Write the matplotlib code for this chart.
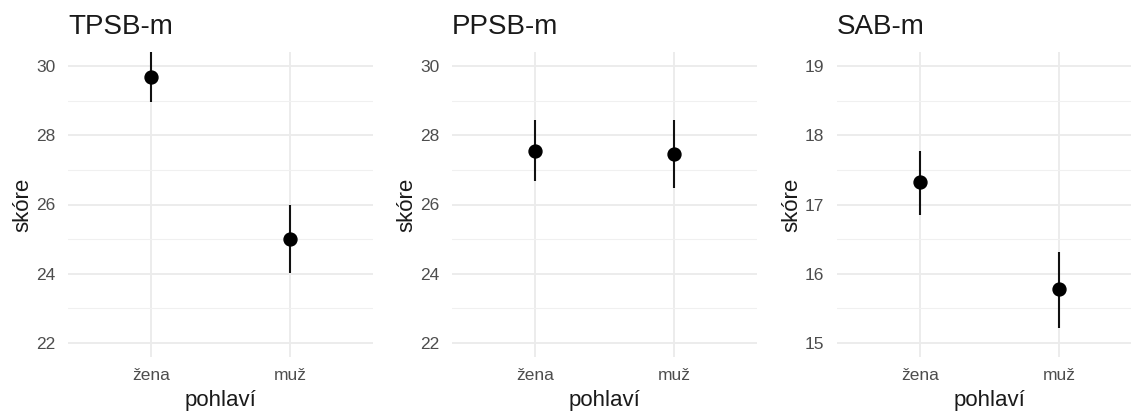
import numpy as np
import matplotlib
matplotlib.use("Agg")
import matplotlib.pyplot as plt

plt.rcParams['font.family'] = ['Liberation Sans', 'DejaVu Sans']

# data
skupiny = ["žena", "muž"]
nazvy = ["TPSB-m", "PPSB-m", "SAB-m"]
prumery = [[29.68, 25.0], [27.55, 27.45], [17.32, 15.78]]
dolni = [[28.97, 24.02], [26.68, 26.47], [16.85, 15.22]]
horni = [[30.40, 26.0], [28.44, 28.44], [17.77, 16.31]]
meze = [(22, 30), (22, 30), (15, 19)]
kroky = [2, 2, 1]

W, H = 1131, 412
fig = plt.figure(figsize=(W / 100, H / 100), dpi=100)

levy = [68, 452, 837]
sirka = 305
horni_px, dolni_px = 52, 357

for i in range(3):
    ax = fig.add_axes([levy[i] / W, 1 - dolni_px / H, sirka / W, (dolni_px - horni_px) / H])
    x = np.arange(1, 3)
    m = np.array(prumery[i])
    lo = np.array(dolni[i])
    hi = np.array(horni[i])
    ax.vlines(x, lo, hi, color='#111111', lw=1.5, zorder=3)
    ax.plot(x, m, 'o', color='black', ms=9.3, zorder=4)

    a, b = meze[i]
    r = (b - a) * 0.05
    ax.set_ylim(a - r, b + r)
    ax.set_xlim(0.4, 2.6)
    ax.set_yticks(np.arange(a, b + 0.01, kroky[i]))
    ax.set_yticks(np.arange(a + kroky[i] / 2, b, kroky[i]), minor=True)
    ax.set_xticks(x)
    ax.set_xticklabels(skupiny)

    ax.grid(True, which='major', color='#EBEBEB', lw=1.3)
    ax.grid(True, which='minor', axis='y', color='#F0F0F0', lw=0.8)
    ax.set_axisbelow(True)
    for s in ax.spines.values():
        s.set_visible(False)
    ax.tick_params(which='both', length=0, labelsize=12.5, labelcolor='#4D4D4D')
    ax.tick_params(axis='y', pad=9)
    ax.tick_params(axis='x', pad=8)

    ax.set_title(nazvy[i], loc='left', fontsize=20, color='#1A1A1A', pad=13)
    ax.set_xlabel("pohlaví", fontsize=16, color='#1A1A1A', labelpad=5)
    ax.set_ylabel("skóre", fontsize=16, color='#1A1A1A', labelpad=2)

fig.savefig("out.png", dpi=100, facecolor='white')
